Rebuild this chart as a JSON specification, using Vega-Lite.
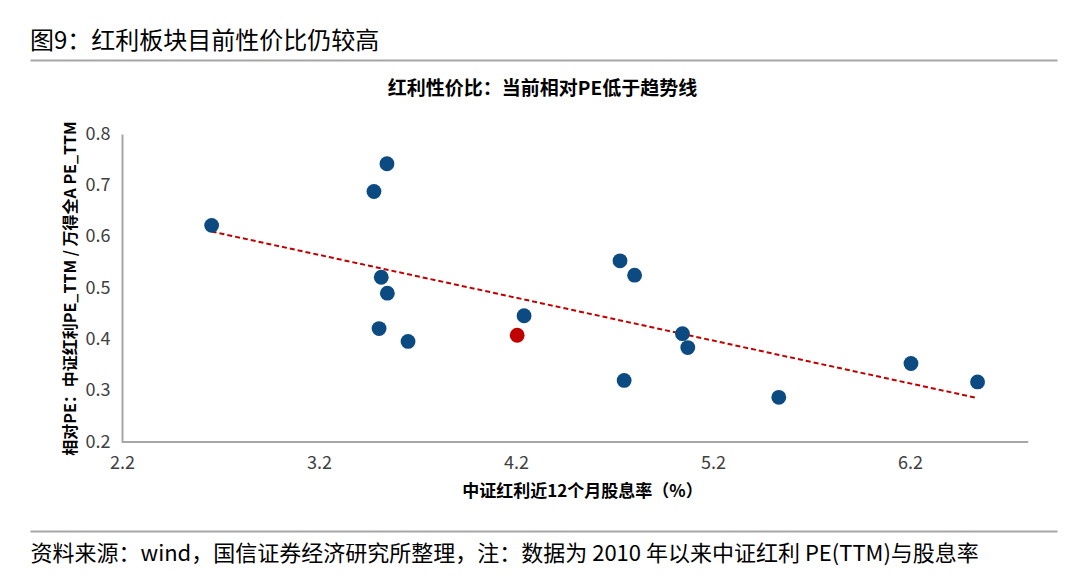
{
  "$schema": "https://vega.github.io/schema/vega-lite/v6.json",
  "autosize": "none",
  "width": 1027,
  "height": 308,
  "padding": {"left": 30, "top": 134, "right": 23, "bottom": 142},
  "background": "white",
  "config": {
    "view": {"stroke": null},
    "font": "Noto Sans CJK SC"
  },
  "title": {
    "text": "图9：红利板块目前性价比仍较高",
    "anchor": "start",
    "frame": "bounds",
    "fontSize": 24,
    "fontWeight": "normal",
    "color": "#000000",
    "offset": 6
  },
  "datasets": {
    "points": [
      {"dy": 2.655, "pe": 0.622, "period": "历史"},
      {"dy": 3.479, "pe": 0.688, "period": "历史"},
      {"dy": 3.545, "pe": 0.742, "period": "历史"},
      {"dy": 3.516, "pe": 0.521, "period": "历史"},
      {"dy": 3.547, "pe": 0.490, "period": "历史"},
      {"dy": 3.505, "pe": 0.421, "period": "历史"},
      {"dy": 3.652, "pe": 0.396, "period": "历史"},
      {"dy": 4.241, "pe": 0.446, "period": "历史"},
      {"dy": 4.206, "pe": 0.408, "period": "当前"},
      {"dy": 4.728, "pe": 0.553, "period": "历史"},
      {"dy": 4.802, "pe": 0.525, "period": "历史"},
      {"dy": 4.749, "pe": 0.320, "period": "历史"},
      {"dy": 5.045, "pe": 0.411, "period": "历史"},
      {"dy": 5.072, "pe": 0.384, "period": "历史"},
      {"dy": 5.534, "pe": 0.287, "period": "历史"},
      {"dy": 6.205, "pe": 0.353, "period": "历史"},
      {"dy": 6.543, "pe": 0.317, "period": "历史"}
    ],
    "trend": [
      {"dy": 2.655, "pe": 0.610},
      {"dy": 6.538, "pe": 0.286}
    ]
  },
  "resolve": {"axis": {"x": "independent", "y": "independent"}},
  "layer": [
    {
      "data": {"values": [{}]},
      "mark": {"type": "rule", "color": "#a6a6a6", "strokeWidth": 2},
      "encoding": {
        "x": {"datum": 2.2, "type": "quantitative", "scale": {"domain": [1.733, 6.9462], "nice": false, "zero": false}, "axis": null},
        "x2": {"datum": 6.8},
        "y": {"datum": 0.2, "type": "quantitative", "scale": {"domain": [0.2, 0.8], "nice": false, "zero": false}, "axis": null}
      }
    },
    {
      "data": {"name": "trend"},
      "mark": {"type": "line", "color": "#c00000", "strokeWidth": 2, "strokeDash": [5, 3]},
      "encoding": {
        "x": {
          "field": "dy",
          "type": "quantitative",
          "scale": {"domain": [1.733, 6.9462], "nice": false, "zero": false},
          "axis": {
            "orient": "top",
            "offset": 74,
            "domainColor": "#a6a6a6",
            "domainWidth": 2,
            "labels": false,
            "ticks": false,
            "grid": false,
            "title": "红利性价比：当前相对PE低于趋势线",
            "titleX": 512,
            "titleY": 28,
            "titleAlign": "center",
            "titleBaseline": "middle",
            "titleFontSize": 19,
            "titleFontWeight": "bold",
            "titleColor": "#000000"
          }
        },
        "y": {"field": "pe", "type": "quantitative", "scale": {"domain": [0.2, 0.8], "nice": false, "zero": false}, "axis": null}
      }
    },
    {
      "data": {"name": "points"},
      "transform": [{"filter": "datum.period == '历史'"}],
      "mark": {"type": "circle", "size": 220, "opacity": 1, "color": "#0c4a82"},
      "encoding": {
        "x": {
          "field": "dy",
          "type": "quantitative",
          "scale": {"domain": [1.733, 6.9462], "nice": false, "zero": false},
          "axis": {
            "orient": "bottom",
            "domain": false,
            "ticks": false,
            "grid": false,
            "values": [2.2, 3.2, 4.2, 5.2, 6.2],
            "format": ".1f",
            "labelFontSize": 18,
            "labelColor": "#404040",
            "labelPadding": 12,
            "labelFlush": false,
            "labelOverlap": false,
            "title": "中证红利近12个月股息率（%）",
            "titleX": 552,
            "titleY": 49,
            "titleAlign": "center",
            "titleBaseline": "middle",
            "titleFontSize": 17,
            "titleFontWeight": "bold",
            "titleColor": "#000000"
          }
        },
        "y": {
          "field": "pe",
          "type": "quantitative",
          "scale": {"domain": [0.2, 0.8], "nice": false, "zero": false},
          "axis": {
            "orient": "left",
            "offset": -92,
            "domainColor": "#a6a6a6",
            "domainWidth": 2,
            "ticks": false,
            "grid": false,
            "values": [0.2, 0.3, 0.4, 0.5, 0.6, 0.7, 0.8],
            "format": ".1f",
            "labelFontSize": 18,
            "labelColor": "#404040",
            "labelPadding": 12,
            "labelFlush": false,
            "labelOverlap": false,
            "title": "相对PE：中证红利PE_TTM / 万得全A PE_TTM",
            "titleX": -52,
            "titleY": 154,
            "titleAngle": -90,
            "titleAlign": "center",
            "titleBaseline": "middle",
            "titleFontSize": 16,
            "titleFontWeight": "bold",
            "titleColor": "#000000"
          }
        }
      }
    },
    {
      "data": {"name": "points"},
      "transform": [{"filter": "datum.period == '当前'"}],
      "mark": {"type": "circle", "size": 220, "opacity": 1, "color": "#c00000"},
      "encoding": {
        "x": {
          "field": "dy",
          "type": "quantitative",
          "scale": {"domain": [1.733, 6.9462], "nice": false, "zero": false},
          "axis": {
            "orient": "bottom",
            "offset": 89,
            "domainColor": "#a6a6a6",
            "domainWidth": 2,
            "labels": false,
            "ticks": false,
            "grid": false,
            "title": "资料来源：wind，国信证券经济研究所整理，注：数据为 2010 年以来中证红利 PE(TTM)与股息率",
            "titleX": 0,
            "titleY": 22,
            "titleAlign": "left",
            "titleBaseline": "middle",
            "titleFontSize": 22,
            "titleFontWeight": "normal",
            "titleLimit": 1100,
            "titleColor": "#000000"
          }
        },
        "y": {"field": "pe", "type": "quantitative", "scale": {"domain": [0.2, 0.8], "nice": false, "zero": false}, "axis": null}
      }
    }
  ]
}
